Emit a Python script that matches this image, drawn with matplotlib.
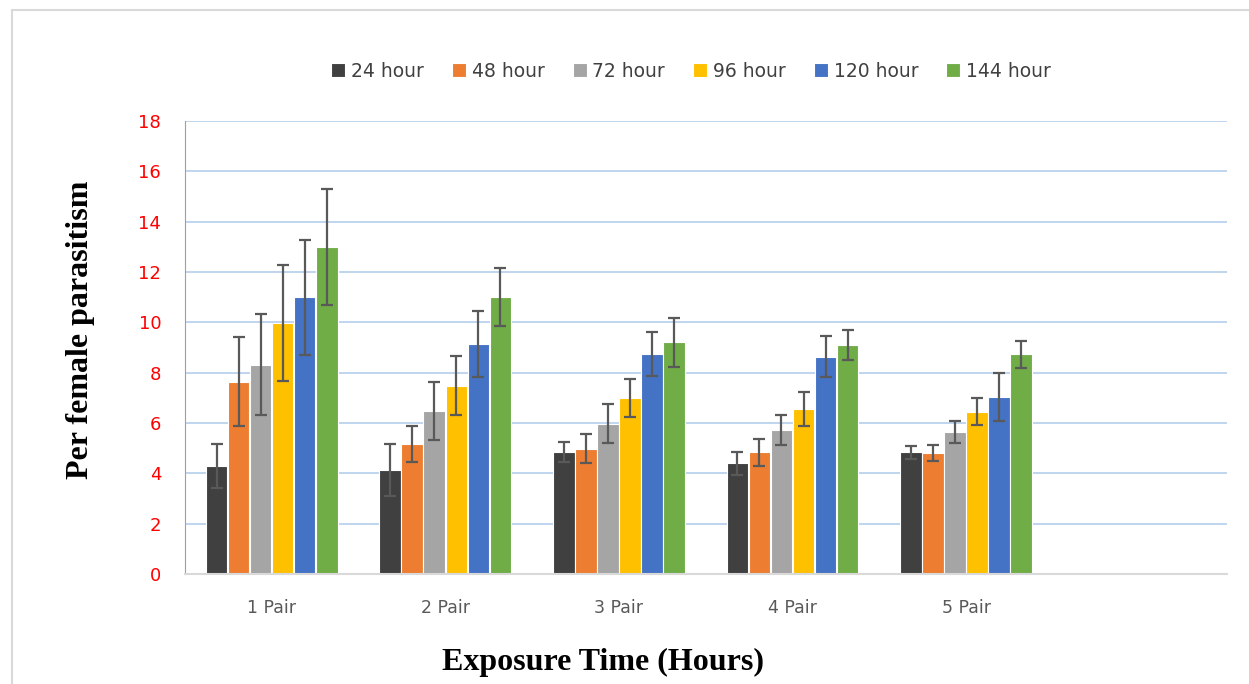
import numpy as np
import matplotlib.pyplot as plt
from matplotlib.patches import Rectangle

groups = ["1 Pair", "2 Pair", "3 Pair", "4 Pair", "5 Pair", ""]
series = ["24 hour", "48 hour", "72 hour", "96 hour", "120 hour", "144 hour"]
colors = ["#404040", "#ED7D31", "#A5A5A5", "#FFC000", "#4472C4", "#70AD47"]

# means per exposure time, one value per pair group
h24 = [4.30, 4.13, 4.86, 4.40, 4.83]
h48 = [7.64, 5.15, 4.98, 4.83, 4.81]
h72 = [8.32, 6.49, 5.97, 5.72, 5.64]
h96 = [9.98, 7.48, 6.99, 6.56, 6.44]
h120 = [10.99, 9.14, 8.74, 8.63, 7.04]
h144 = [12.98, 11.0, 9.20, 9.10, 8.73]

# error bar half lengths
e24 = [0.88, 1.03, 0.40, 0.45, 0.27]
e48 = [1.77, 0.72, 0.58, 0.53, 0.32]
e72 = [2.02, 1.15, 0.78, 0.60, 0.43]
e96 = [2.30, 1.17, 0.76, 0.67, 0.54]
e120 = [2.30, 1.30, 0.89, 0.81, 0.95]
e144 = [2.31, 1.15, 0.98, 0.60, 0.54]

means = [h24, h48, h72, h96, h120, h144]
errs = [e24, e48, e72, e96, e120, e144]

fig = plt.figure(figsize=(12.49, 6.84), dpi=100)
ax = fig.add_axes([0.148, 0.161, 0.834, 0.662])

# outer frame of the chart box
fig.patches.append(Rectangle((12/1249, -0.01), 1.0, 1 - 10/684 + 0.01,
                             transform=fig.transFigure, fill=False,
                             edgecolor="#D9D9D9", linewidth=1.5))

x = np.arange(5)
step = 0.127
w = 0.124
for i in range(6):
    pos = x + (i - 2.5) * step
    ax.bar(pos, means[i], width=w, color=colors[i], label=series[i], zorder=2,
           edgecolor="white", linewidth=0.8)
    ax.errorbar(pos, means[i], yerr=errs[i], fmt="none", ecolor="#595959",
                elinewidth=1.6, capsize=4, capthick=1.6, zorder=3)

ax.set_xlim(-0.5, 5.5)
ax.set_ylim(0, 18)
ax.set_yticks(range(0, 19, 2))
ax.set_xticks(range(6))
ax.set_xticklabels(groups)
ax.tick_params(axis="y", colors="red", labelsize=13, length=0, pad=17)
ax.tick_params(axis="x", colors="#595959", labelsize=12.5, length=0, pad=18)

ax.grid(axis="y", color="#B4CDEB", linewidth=1.2, zorder=0)
ax.set_axisbelow(True)
for s in ["top", "right"]:
    ax.spines[s].set_visible(False)
ax.spines["left"].set_color("#A0A0A0")
ax.spines["bottom"].set_color("#D9D9D9")
ax.spines["bottom"].set_linewidth(1.5)

fig.text(81/1249, 1 - 330/684, "Per female parasitism", family="Liberation Serif",
         fontweight="bold", fontsize=23, rotation=90, ha="center", va="center")
fig.text(603/1249, 1 - 662/684, "Exposure Time (Hours)", family="Liberation Serif",
         fontweight="bold", fontsize=23, ha="center", va="center")

leg = ax.legend(loc="center", bbox_to_anchor=(0.486, 1.11), ncol=6, frameon=False,
                fontsize=13.5, handlelength=0.75, handleheight=0.75,
                handletextpad=0.3, columnspacing=1.5)
for t in leg.get_texts():
    t.set_color("#404040")

fig.savefig("out.png", dpi=100)
